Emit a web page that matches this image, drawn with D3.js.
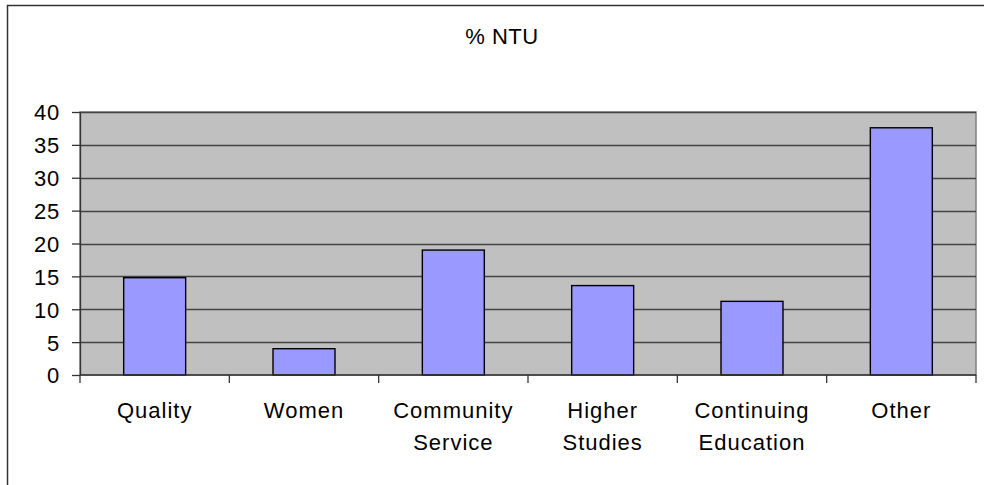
<!DOCTYPE html>
<html>
<head>
<meta charset="utf-8">
<script src="https://cdn.jsdelivr.net/npm/d3@7"></script>
<style>
  body { margin: 0; background: #fff; }
  svg { display: block; font-family: 'Liberation Sans', Arial, sans-serif; }
</style>
</head>
<body>
<svg id="chart" width="984" height="485"></svg>
<script>
var categories = ['Quality', 'Women', 'Community Service', 'Higher Studies', 'Continuing Education', 'Other']
var labelLines = [['Quality'], ['Women'], ['Community', 'Service'], ['Higher', 'Studies'], ['Continuing', 'Education'], ['Other']]
var values = [14.8, 4.0, 19.0, 13.6, 11.2, 37.6]
var yTicks = [0, 5, 10, 15, 20, 25, 30, 35, 40]
var title = '% NTU'

var svg = d3.select('#chart')
var plot = { left: 80, right: 976, top: 112, bottom: 375 }

// chart area border (runs off the right and bottom of the picture)
svg.append('rect')
  .attr('x', 7.5)
  .attr('y', 5.5)
  .attr('width', 1010)
  .attr('height', 500)
  .attr('fill', '#fff')
  .attr('stroke', '#333')
  .attr('stroke-width', 1.5)

svg.append('text')
  .text(title)
  .attr('x', 502)
  .attr('y', 44)
  .attr('text-anchor', 'middle')
  .attr('font-size', 22)
  .attr('letter-spacing', 0.5)

var x = d3.scaleBand()
  .domain(categories)
  .range([plot.left, plot.right])
  .paddingInner(0.585)
  .paddingOuter(0.2925)

var xCat = d3.scaleBand()
  .domain(categories)
  .range([plot.left, plot.right])

var y = d3.scaleLinear()
  .domain([0, 40])
  .range([plot.bottom, plot.top])

// plot area
svg.append('rect')
  .attr('x', plot.left)
  .attr('y', plot.top)
  .attr('width', plot.right - plot.left)
  .attr('height', plot.bottom - plot.top)
  .attr('fill', '#c0c0c0')
  .attr('stroke', '#808080')
  .attr('stroke-width', 1.5)

// gridlines
svg.append('g')
  .selectAll('line')
  .data(yTicks.filter(function (d) { return d > 0 }))
  .enter()
  .append('line')
  .attr('x1', plot.left)
  .attr('x2', plot.right)
  .attr('y1', function (d) { return Math.round(y(d)) + 0.5 })
  .attr('y2', function (d) { return Math.round(y(d)) + 0.5 })
  .attr('stroke', '#444')
  .attr('stroke-width', 1.3)

// bars
svg.append('g')
  .selectAll('rect')
  .data(values)
  .enter()
  .append('rect')
  .attr('x', function (d, i) { return x(categories[i]) })
  .attr('y', function (d) { return y(d) })
  .attr('width', x.bandwidth())
  .attr('height', function (d) { return y(0) - y(d) })
  .attr('fill', '#9999ff')
  .attr('stroke', '#000')
  .attr('stroke-width', 1.4)

// y axis
var yAxis = svg.append('g')
  .attr('transform', 'translate(' + plot.left + ',0)')
  .call(d3.axisLeft(y).tickValues(yTicks).tickSize(8).tickPadding(12).tickSizeOuter(0))
yAxis.select('.domain').attr('stroke', '#333').attr('stroke-width', 1.3)
yAxis.selectAll('.tick line').attr('stroke', '#333').attr('stroke-width', 1.3)
yAxis.selectAll('.tick text')
  .attr('font-family', "'Liberation Sans', Arial, sans-serif")
  .attr('font-size', 22)
  .attr('letter-spacing', 0.8)
  .attr('fill', '#000')
  .attr('dy', '0.36em')

// x axis with ticks at category boundaries
var xAxis = svg.append('g')
  .attr('transform', 'translate(0,' + plot.bottom + ')')
xAxis.append('line')
  .attr('x1', plot.left)
  .attr('x2', plot.right)
  .attr('stroke', '#333')
  .attr('stroke-width', 1.3)
xAxis.selectAll('.cat-tick')
  .data(categories.concat(['end']))
  .enter()
  .append('line')
  .attr('class', 'cat-tick')
  .attr('x1', function (d, i) { return plot.left + i * xCat.step() })
  .attr('x2', function (d, i) { return plot.left + i * xCat.step() })
  .attr('y1', 0)
  .attr('y2', 8)
  .attr('stroke', '#333')
  .attr('stroke-width', 1.3)

var labels = svg.append('g')
  .selectAll('text')
  .data(labelLines)
  .enter()
  .append('text')
  .attr('text-anchor', 'middle')
  .attr('font-size', 22)
  .attr('letter-spacing', 1)
  .attr('fill', '#000')

labels.selectAll('tspan')
  .data(function (d, i) { return d.map(function (t) { return { text: t, cat: categories[i] } }) })
  .enter()
  .append('tspan')
  .attr('x', function (d) { return xCat(d.cat) + xCat.bandwidth() / 2 })
  .attr('y', function (d, j) { return 418 + j * 32 })
  .text(function (d) { return d.text })
</script>
</body>
</html>
